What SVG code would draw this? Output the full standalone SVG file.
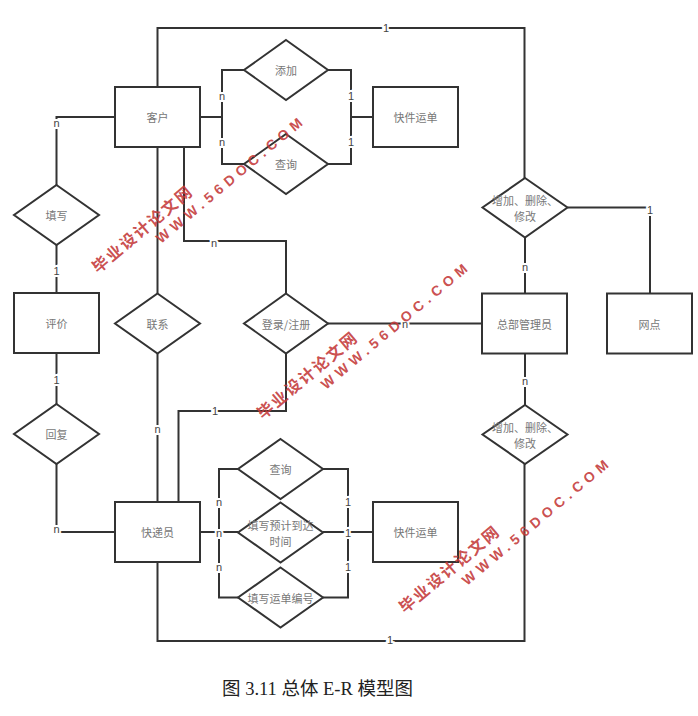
<svg xmlns="http://www.w3.org/2000/svg" width="698" height="716" viewBox="0 0 698 716">
<style>
.e{fill:#fff;stroke:#333;stroke-width:2}
.c{fill:none;stroke:#333;stroke-width:2}
.t{font-family:"Noto Sans CJK SC","Liberation Sans",sans-serif;font-size:11px;fill:#777;text-anchor:middle;dominant-baseline:central}
.l{font-family:"Liberation Sans","DejaVu Sans",sans-serif;font-size:11px;fill:#444;text-anchor:middle;dominant-baseline:central;stroke:#fff;stroke-width:4;paint-order:stroke}
.w{font-family:"Noto Sans CJK SC",sans-serif;font-weight:bold;font-size:16px;fill:#c43a3a;fill-opacity:0.9}
.ww{font-family:"Liberation Sans",sans-serif;font-weight:bold;font-size:14px;fill:#c43a3a;fill-opacity:0.9}
.cap{font-family:"Liberation Serif","Noto Sans CJK SC",serif;font-size:18.5px;fill:#222}
</style>
<rect width="698" height="716" fill="#fff"/>
<g id="connectors">
<polyline class="c" points="157.5,87 157.5,28 524.5,28 524.5,178"/>
<polyline class="c" points="200,117 222,117"/>
<polyline class="c" points="244,70 222,70 222,164 244,164"/>
<polyline class="c" points="328,70 351,70 351,164 328,164"/>
<polyline class="c" points="351,117 373,117"/>
<polyline class="c" points="115,117 56.5,117 56.5,185"/>
<polyline class="c" points="56.5,245 56.5,293"/>
<polyline class="c" points="56.5,353 56.5,404"/>
<polyline class="c" points="56.5,464 56.5,532 115,532"/>
<polyline class="c" points="157.5,147 157.5,293.5"/>
<polyline class="c" points="157.5,353.5 157.5,502"/>
<polyline class="c" points="184,147 184,241 286,241 286,293.5"/>
<polyline class="c" points="286,353.5 286,411 178.5,411 178.5,502"/>
<polyline class="c" points="328,323.5 482,323.5"/>
<polyline class="c" points="525,237.5 525,293.5"/>
<polyline class="c" points="567.5,207.5 650,207.5 650,293.5"/>
<polyline class="c" points="525,353.5 525,405"/>
<polyline class="c" points="157.5,562 157.5,641 524.5,641 524.5,464"/>
<polyline class="c" points="200,532 238,532"/>
<polyline class="c" points="238,469 219,469 219,597.5 238,597.5"/>
<polyline class="c" points="323,469 348,469 348,597.5 323,597.5"/>
<polyline class="c" points="323,532 373,532"/>
<text class="l" x="386" y="28">1</text>
<text class="l" x="222" y="96">n</text>
<text class="l" x="222" y="142">n</text>
<text class="l" x="351" y="96">1</text>
<text class="l" x="351" y="142">1</text>
<text class="l" x="56.5" y="123">n</text>
<text class="l" x="56.5" y="271">1</text>
<text class="l" x="56.5" y="380">1</text>
<text class="l" x="56.5" y="529">n</text>
<text class="l" x="157.5" y="429">n</text>
<text class="l" x="214" y="243">n</text>
<text class="l" x="215" y="411">1</text>
<text class="l" x="405" y="324">n</text>
<text class="l" x="525" y="267">n</text>
<text class="l" x="650" y="210">1</text>
<text class="l" x="525" y="381">n</text>
<text class="l" x="390" y="640">1</text>
<text class="l" x="219" y="502">n</text>
<text class="l" x="219" y="533">n</text>
<text class="l" x="219" y="567">n</text>
<text class="l" x="348" y="502">1</text>
<text class="l" x="348" y="533">1</text>
<text class="l" x="348" y="567">1</text>
</g>
<g id="kehu"><rect class="e" x="115" y="87" width="85" height="60"/><text class="t" x="157.5" y="117">客户</text></g>
<g id="yundan1"><rect class="e" x="373" y="87" width="85" height="60"/><text class="t" x="415.5" y="117">快件运单</text></g>
<g id="pingjia"><rect class="e" x="14" y="293" width="85" height="60"/><text class="t" x="56.5" y="323">评价</text></g>
<g id="zongbu"><rect class="e" x="482" y="293.5" width="85" height="60"/><text class="t" x="524.5" y="323.5">总部管理员</text></g>
<g id="wangdian"><rect class="e" x="607" y="293.5" width="85" height="60"/><text class="t" x="649.5" y="323.5">网点</text></g>
<g id="kuaidiyuan"><rect class="e" x="115" y="502" width="85" height="60"/><text class="t" x="157.5" y="532">快递员</text></g>
<g id="yundan2"><rect class="e" x="373" y="502" width="85" height="60"/><text class="t" x="415.5" y="532">快件运单</text></g>
<g id="tianjia"><polygon class="e" points="286,40 328,70 286,100 244,70"/><text class="t" x="286" y="70">添加</text></g>
<g id="chaxun1"><polygon class="e" points="286,134 328,164 286,194 244,164"/><text class="t" x="286" y="164">查询</text></g>
<g id="tianxie"><polygon class="e" points="56.5,185 99,215 56.5,245 14,215"/><text class="t" x="56.5" y="215">填写</text></g>
<g id="huifu"><polygon class="e" points="56.5,404 99,434 56.5,464 14,434"/><text class="t" x="56.5" y="434">回复</text></g>
<g id="lianxi"><polygon class="e" points="157.5,293.5 200,323.5 157.5,353.5 115,323.5"/><text class="t" x="157.5" y="323.5">联系</text></g>
<g id="denglu"><polygon class="e" points="286,293.5 328,323.5 286,353.5 244,323.5"/><text class="t" x="286" y="323.5">登录/注册</text></g>
<g id="zengjia1"><polygon class="e" points="525,178 567.5,207.5 525,237.5 482.5,207.5"/><text class="t"><tspan x="525" y="199.5">增加、删除、</tspan><tspan x="525" y="215.5">修改</tspan></text></g>
<g id="zengjia2"><polygon class="e" points="525,405 567.5,434.5 525,464 482.5,434.5"/><text class="t"><tspan x="525" y="426.5">增加、删除、</tspan><tspan x="525" y="442.5">修改</tspan></text></g>
<g id="chaxun2"><polygon class="e" points="280.5,439 323,469 280.5,499 238,469"/><text class="t" x="280.5" y="469">查询</text></g>
<g id="yuji"><polygon class="e" points="280.5,502.5 323,532.5 280.5,562.5 238,532.5"/><text class="t"><tspan x="280.5" y="524.5">填写预计到达</tspan><tspan x="280.5" y="540.5">时间</tspan></text></g>
<g id="bianhao"><polygon class="e" points="280.5,567.5 323,597.5 280.5,627.5 238,597.5"/><text class="t" x="280.5" y="597.5">填写运单编号</text></g>
<g id="watermarks">
<text class="w" transform="translate(98,274) rotate(-40)" textLength="124" lengthAdjust="spacing">毕业设计论文网</text>
<text class="ww" transform="translate(161,244) rotate(-40)" textLength="186" lengthAdjust="spacing">WWW.56DOC.COM</text>
<text class="w" transform="translate(263,420) rotate(-40)" textLength="124" lengthAdjust="spacing">毕业设计论文网</text>
<text class="ww" transform="translate(326,390) rotate(-40)" textLength="186" lengthAdjust="spacing">WWW.56DOC.COM</text>
<text class="w" transform="translate(405,614) rotate(-40)" textLength="124" lengthAdjust="spacing">毕业设计论文网</text>
<text class="ww" transform="translate(467,586) rotate(-40)" textLength="186" lengthAdjust="spacing">WWW.56DOC.COM</text>
</g>
<text class="cap" x="222" y="695">图 3.11 总体 E-R 模型图</text>
</svg>
